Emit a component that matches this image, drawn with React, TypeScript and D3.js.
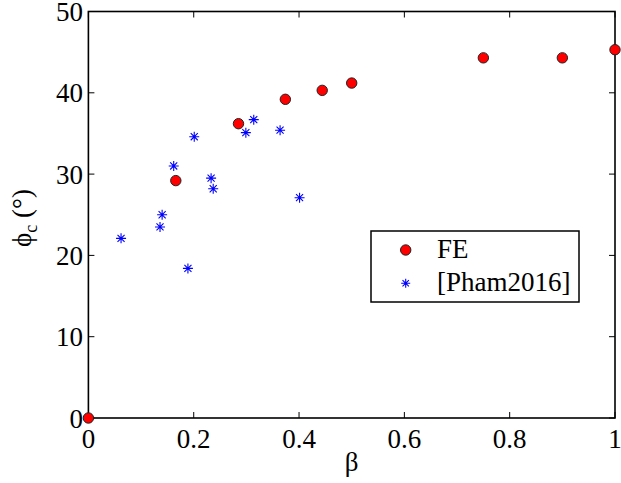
import React from 'react';
import { scaleLinear } from 'd3';

const feBeta = [0, 0.166, 0.285, 0.374, 0.444, 0.5, 0.75, 0.9, 1.0];
const fePhi = [0, 29.2, 36.2, 39.2, 40.3, 41.2, 44.3, 44.3, 45.3];

const phamBeta = [0.062, 0.136, 0.14, 0.162, 0.189, 0.201, 0.233, 0.237, 0.299, 0.314, 0.364, 0.401];
const phamPhi = [22.1, 23.5, 25.0, 31.0, 18.4, 34.6, 29.5, 28.2, 35.1, 36.7, 35.4, 27.1];

const xTicks = [0, 0.2, 0.4, 0.6, 0.8, 1];
const yTicks = [0, 10, 20, 30, 40, 50];

const W = 621;
const H = 483;
const left = 88.4;
const right = 615;
const top = 11.5;
const bottom = 418;
const fs = 27;
const tick = 6;
const txt = { fontFamily: "'Liberation Serif', 'DejaVu Serif', serif", fontSize: fs };

function Star({ x, y, r }: { x: number; y: number; r: number }) {
  const d = r * Math.SQRT1_2;
  return (
    <path
      d={`M${x - r},${y}H${x + r}M${x},${y - r}V${y + r}M${x - d},${y - d}L${x + d},${y + d}M${x - d},${y + d}L${x + d},${y - d}`}
      stroke="#0000ff"
      strokeWidth={1.1}
      fill="none"
    />
  );
}

export default function App() {
  const x = scaleLinear().domain([0, 1]).range([left, right]);
  const y = scaleLinear().domain([0, 50]).range([bottom, top]);

  return (
    <svg width={W} height={H} style={{ position: 'absolute', left: 0, top: 0, background: '#fff' }}>
      <rect x={0} y={0} width={W} height={H} fill="#fff" />
      {/* ticks */}
      {xTicks.map(t => (
        <g key={'x' + t} stroke="#000" strokeWidth={1}>
          <line x1={x(t)} x2={x(t)} y1={bottom} y2={bottom - tick} />
          <line x1={x(t)} x2={x(t)} y1={top} y2={top + tick} />
        </g>
      ))}
      {yTicks.map(t => (
        <g key={'y' + t} stroke="#000" strokeWidth={1}>
          <line x1={left} x2={left + tick} y1={y(t)} y2={y(t)} />
          <line x1={right} x2={right - tick} y1={y(t)} y2={y(t)} />
        </g>
      ))}
      <rect x={left} y={top} width={right - left} height={bottom - top} fill="none" stroke="#000" strokeWidth={1.6} />
      {/* tick labels */}
      {xTicks.map(t => (
        <text key={'xl' + t} x={x(t)} y={448} textAnchor="middle" style={txt} fill="#000">
          {String(t)}
        </text>
      ))}
      {yTicks.map(t => (
        <text key={'yl' + t} x={83} y={y(t) + 9.5} textAnchor="end" style={txt} fill="#000">
          {String(t)}
        </text>
      ))}
      {/* axis labels */}
      <text x={(left + right) / 2} y={471} textAnchor="middle" style={txt} fill="#000">
        β
      </text>
      <text transform="translate(31,218) rotate(-90)" textAnchor="middle" style={txt} fill="#000">
        ϕ<tspan style={{ fontSize: 18 }} dy={6}>c</tspan>
        <tspan dy={-6}> (°)</tspan>
      </text>
      {/* data */}
      {phamBeta.map((b, i) => (
        <Star key={'p' + i} x={x(b)} y={y(phamPhi[i])} r={5} />
      ))}
      {feBeta.map((b, i) => (
        <circle key={'f' + i} cx={x(b)} cy={y(fePhi[i])} r={5.2} fill="#ff0000" stroke="#222" strokeWidth={1} />
      ))}
      {/* legend */}
      <rect x={371} y={231} width={208} height={71} fill="#fff" stroke="#000" strokeWidth={1.5} />
      <circle cx={405.7} cy={250} r={5.2} fill="#ff0000" stroke="#222" strokeWidth={1} />
      <text x={437} y={258} style={txt} fill="#000">FE</text>
      <Star x={405.7} y={283.3} r={4.5} />
      <text x={437} y={291} style={txt} fill="#000">[Pham2016]</text>
    </svg>
  );
}
